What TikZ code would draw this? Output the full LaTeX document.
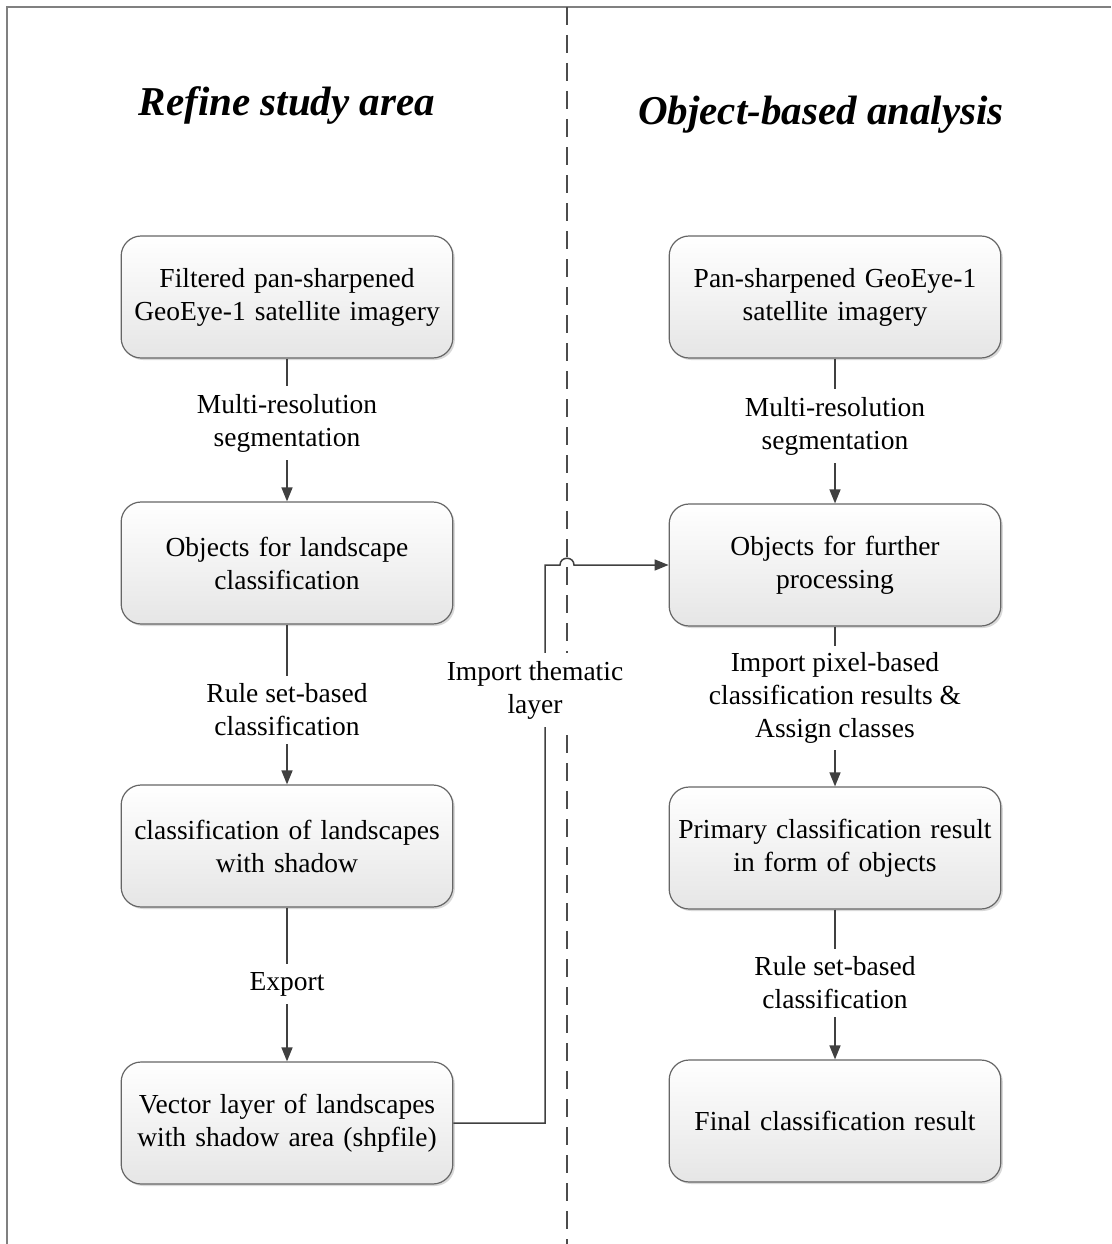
\documentclass[tikz,border=0pt]{standalone}
\usepackage{fontspec}
\setmainfont{Liberation Serif}
\usetikzlibrary{arrows.meta,shadows}
\begin{document}
\begin{tikzpicture}[x=1pt,y=-1pt,
  box/.style={draw=black!60, line width=1.2pt, rounded corners=20pt,
    minimum width=331pt, minimum height=122pt, align=center, text width=325pt,
    top color=white, bottom color=black!10,
    drop shadow={shadow xshift=2pt, shadow yshift=-2pt, fill=black!25, opacity=0.6},
    font=\fontsize{27.5}{33}\selectfont},
  lbl/.style={fill=white, align=center, inner xsep=4pt, inner ysep=8pt, font=\fontsize{27.5}{33}\selectfont},
  arr/.style={draw=black!75, line width=1.5pt, -{Triangle[length=14pt,width=11pt]}},
  ttl/.style={font=\fontsize{41}{48}\selectfont\bfseries\itshape},
  frame/.style={draw=black!50, line width=2pt}]
\useasboundingbox (0,0) rectangle (1111,1244);
% frame
\coordinate (fbl) at (7,1244);
\coordinate (ftl) at (7,7);
\coordinate (ftr) at (1111,7);
\draw[frame] (fbl) -- (ftl) -- (ftr);
% divider
\coordinate (dtop) at (567,7);
\coordinate (dbot) at (567,1244);
\draw[draw=black!70, line width=2pt, dash pattern=on 18pt off 10pt] (dtop) -- (dbot);
% titles
\node[ttl] (t1) at (287,105) {Refine study area};
\node[ttl] (t2) at (821,115) {Object-based analysis};
% left column
\node[box] (l1) at (287,297) {Filtered pan-sharpened\\GeoEye-1 satellite imagery};
\node[box] (l2) at (287,563) {Objects for landscape\\classification};
\node[box] (l3) at (287,846) {classification of landscapes\\with shadow};
\node[box] (l4) at (287,1123) {Vector layer of landscapes\\with shadow area (shpfile)};
% right column
\node[box] (r1) at (835,297) {Pan-sharpened GeoEye-1\\satellite imagery};
\node[box] (r2) at (835,565) {Objects for further\\processing};
\node[box] (r3) at (835,848) {Primary classification result\\in form of objects};
\node[box] (r4) at (835,1121) {Final classification result};
% arrows left
\draw[arr] (l1) -- (l2);
\draw[arr] (l2) -- (l3);
\draw[arr] (l3) -- (l4);
\node[lbl] (a1) at (287,423) {Multi-resolution\\segmentation};
\node[lbl] (a2) at (287,710) {Rule set-based\\classification};
\node[lbl] (a3) at (287,984) {Export};
% arrows right
\draw[arr] (r1) -- (r2);
\draw[arr] (r2) -- (r3);
\draw[arr] (r3) -- (r4);
\node[lbl] (b1) at (835,426) {Multi-resolution\\segmentation};
\node[lbl, inner ysep=6pt] (b2) at (835,698) {Import pixel-based\\classification results \&\\Assign classes};
\node[lbl] (b3) at (835,983) {Rule set-based\\classification};
% import thematic layer
\coordinate (c1) at (545,1123);
\coordinate (c2) at (545,565);
\coordinate (h1) at (560,565);
\coordinate (h2) at (574,565);
\draw[arr] (l4.east) -- (c1) -- (c2) -- (h1) .. controls (560,556) and (574,556) .. (h2) -- (r2.west);
\node[lbl] (tl) at (535,690) {Import thematic\\layer};
\end{tikzpicture}
\end{document}
